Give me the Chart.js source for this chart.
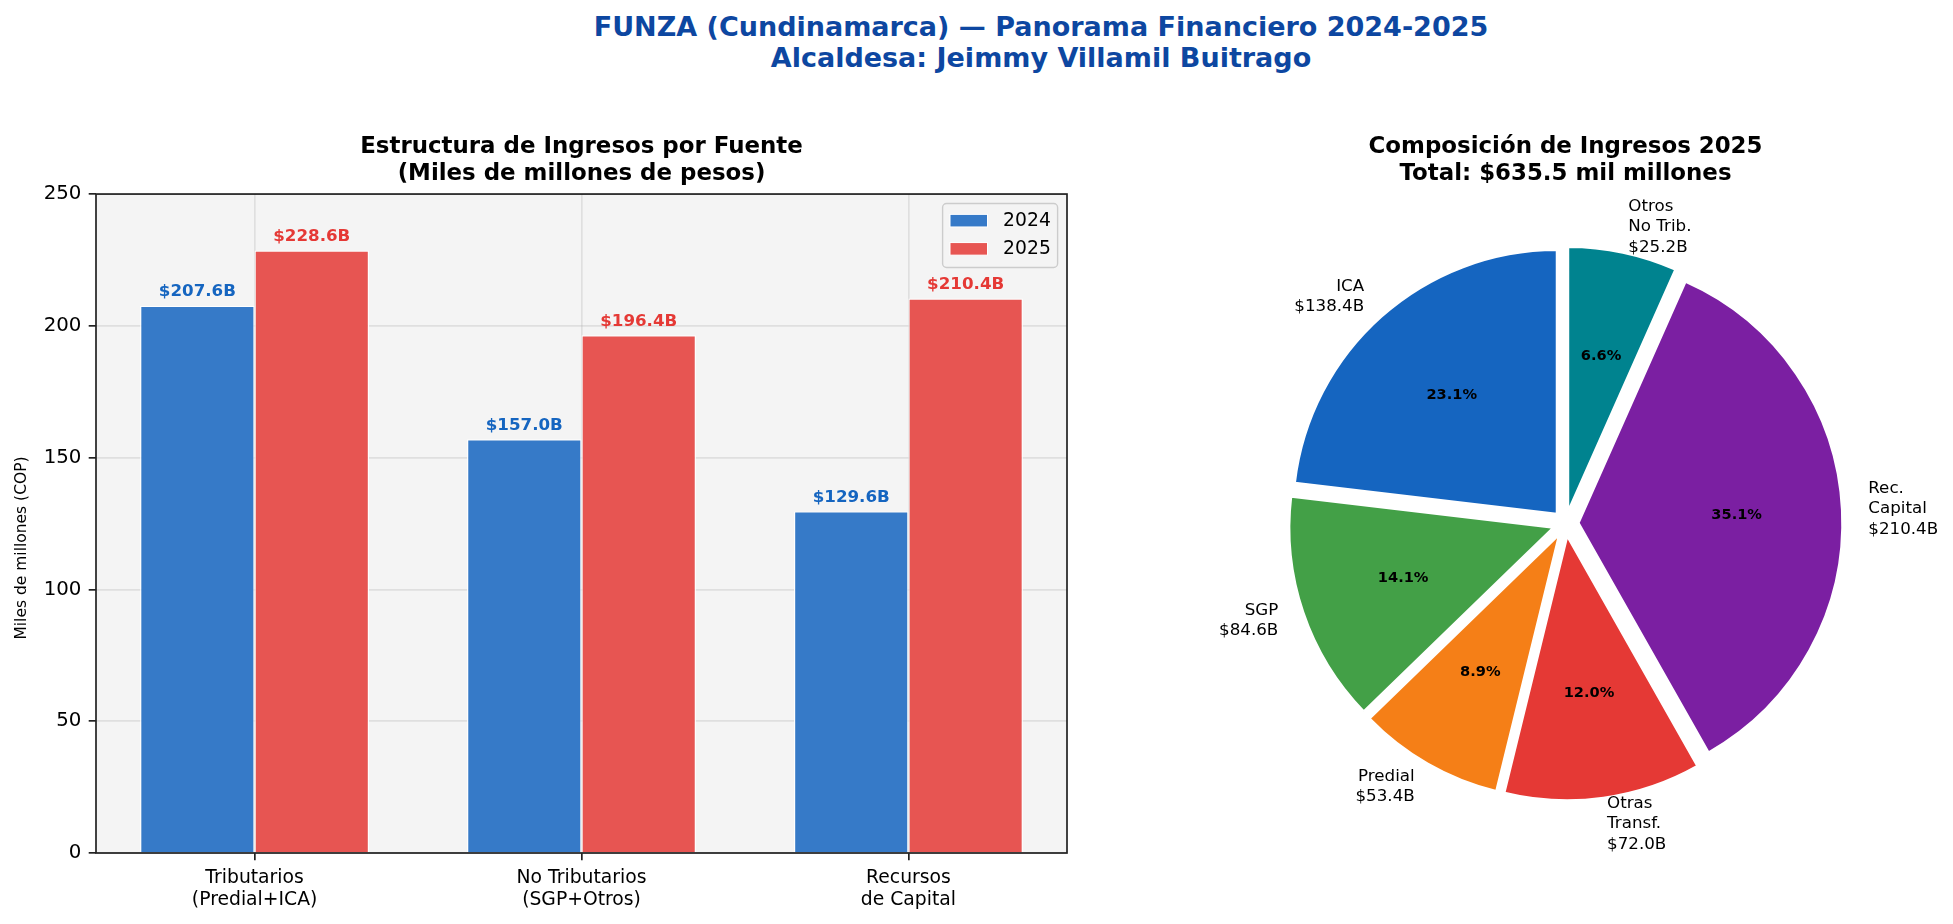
<!DOCTYPE html>
<html lang="es">

<head>
  <meta charset="UTF-8">
  <title>FUNZA - Panorama Financiero</title>
  <script src="https://cdn.jsdelivr.net/npm/chart.js"></script>
  <style>
    html, body { margin: 0; padding: 0; background: #fff; overflow: hidden; }
    body { width: 1953px; height: 924px; position: relative; font-family: 'DejaVu Sans', sans-serif; }
    .suptitle {
      position: absolute; left: 1041px; top: 10.6px; transform: translateX(-50%);
      white-space: nowrap; text-align: center; color: #0d47a1;
      font-weight: bold; font-size: 27px; line-height: 31.3px;
    }
    .box { position: absolute; top: 0; height: 924px; }
    #barBox { left: 0; width: 1163px; }
    #pieBox { left: 1185px; width: 761px; }
  </style>
</head>

<body>
  <div class="suptitle">FUNZA (Cundinamarca) — Panorama Financiero 2024-2025<br>Alcaldesa: Jeimmy Villamil Buitrago</div>
  <div class="box" id="barBox"><canvas id="barChart"></canvas></div>
  <div class="box" id="pieBox"><canvas id="pieChart"></canvas></div>

  <script>
    // bar chart data
    const categories = [['Tributarios', '(Predial+ICA)'], ['No Tributarios', '(SGP+Otros)'], ['Recursos', 'de Capital']];
    const years = ['2024', '2025'];
    const values2024 = [207.6, 157.0, 129.6];
    const values2025 = [228.6, 196.4, 210.4];
    const yTicks = [0, 50, 100, 150, 200, 250];

    // pie data (matplotlib order, counterclockwise from the top)
    const pieNames = [['ICA'], ['SGP'], ['Predial'], ['Otras', 'Transf.'], ['Rec.', 'Capital'], ['Otros', 'No Trib.']];
    const pieAmounts = ['$138.4B', '$84.6B', '$53.4B', '$72.0B', '$210.4B', '$25.2B'];
    const pieValues = [138.4, 84.6, 53.4, 72.0, 210.4, 39.8];
    const pieColors = ['#1565C0', '#43A047', '#F57F17', '#E53935', '#7B1FA2', '#00838F'];

    const FONT = "'DejaVu Sans'";
    Chart.defaults.font.family = FONT;
    Chart.defaults.color = '#000';

    const gridStyle = {
      color: 'rgba(176,176,176,0.3)',
      lineWidth: 1.7,
      tickColor: '#222',
      tickWidth: 1.7,
      tickLength: 7.3,
      offset: false,
    };

    const barDecor = {
      id: 'barDecor',
      beforeDraw(chart) {
        const { ctx, chartArea: a } = chart;
        ctx.save();
        ctx.fillStyle = '#f4f4f4';
        ctx.fillRect(a.left, a.top, a.right - a.left, a.bottom - a.top);
        ctx.restore();
      },
      afterDraw(chart) {
        const { ctx, chartArea: a } = chart;
        ctx.save();

        // y axis label (sits a little below the axis middle in the original)
        ctx.save();
        ctx.translate(22.4, 548);
        ctx.rotate(-Math.PI / 2);
        ctx.font = `15.5px ${FONT}`;
        ctx.fillStyle = '#000';
        ctx.textAlign = 'center';
        ctx.textBaseline = 'middle';
        ctx.fillText('Miles de millones (COP)', 0, 0);
        ctx.restore();

        // value labels over the bars
        ctx.font = `bold 16.7px ${FONT}`;
        ctx.textAlign = 'center';
        ctx.textBaseline = 'alphabetic';
        chart.data.datasets.forEach((ds, di) => {
          ctx.fillStyle = ds.labelColor;
          chart.getDatasetMeta(di).data.forEach((bar, i) => {
            ctx.fillText('$' + ds.data[i].y.toFixed(1) + 'B', bar.x, bar.y - 9.5);
          });
        });

        // axes frame
        ctx.strokeStyle = '#222';
        ctx.lineWidth = 1.7;
        ctx.strokeRect(a.left, a.top, a.right - a.left, a.bottom - a.top);

        // legend, upper right
        const w = 115, h = 64;
        const left = a.right - 9.4 - w, top = a.top + 9.4;
        ctx.beginPath();
        if (ctx.roundRect) ctx.roundRect(left, top, w, h, 4); else ctx.rect(left, top, w, h);
        ctx.fillStyle = 'rgba(244,244,244,0.8)';
        ctx.fill();
        ctx.strokeStyle = '#cccccc';
        ctx.lineWidth = 1.4;
        ctx.stroke();
        ctx.font = `18.75px ${FONT}`;
        ctx.textAlign = 'left';
        ctx.textBaseline = 'middle';
        chart.data.datasets.forEach((ds, di) => {
          const cy = top + 17.2 + di * 28.2;
          ctx.fillStyle = ds.backgroundColor;
          ctx.fillRect(left + 7.4, cy - 6.3, 37.5, 12.6);
          ctx.strokeStyle = '#fff';
          ctx.lineWidth = 1;
          ctx.strokeRect(left + 7.4, cy - 6.3, 37.5, 12.6);
          ctx.fillStyle = '#000';
          ctx.fillText(ds.label, left + 60.5, cy);
        });
        ctx.restore();
      }
    };

    new Chart(document.getElementById('barChart'), {
      type: 'bar',
      data: {
        datasets: [{
          label: years[0],
          data: values2024.map((v, i) => ({ x: i, y: v })),
          backgroundColor: '#367ac8',
          labelColor: '#1565C0',
        }, {
          label: years[1],
          data: values2025.map((v, i) => ({ x: i, y: v })),
          backgroundColor: '#e75552',
          labelColor: '#E53935',
        }]
      },
      options: {
        responsive: true,
        maintainAspectRatio: false,
        animation: false,
        layout: { padding: { left: 0, right: 96, top: 0, bottom: 0 } },
        datasets: {
          bar: { categoryPercentage: 0.7, barPercentage: 1.0, borderColor: '#fff', borderWidth: 1.2 }
        },
        plugins: {
          legend: { display: false },
          tooltip: { enabled: false },
          title: {
            display: true,
            fullSize: false,
            text: ['Estructura de Ingresos por Fuente', '(Miles de millones de pesos)'],
            color: '#000',
            font: { size: 22.9, weight: 'bold', lineHeight: 1.2 },
            padding: { top: 133.3, bottom: 5.8 },
          },
        },
        scales: {
          x: {
            type: 'linear',
            min: -0.485,
            max: 2.485,
            offset: false,
            z: 1,
            grid: gridStyle,
            border: { display: false },
            ticks: {
              stepSize: 1,
              includeBounds: false,
              autoSkip: false,
              maxRotation: 0,
              padding: 7,
              color: '#000',
              font: { size: 18.75, lineHeight: 1.15 },
              callback: (v) => categories[v] || '',
            },
            afterFit: (s) => { s.height = 71; },
          },
          y: {
            min: yTicks[0],
            max: yTicks[yTicks.length - 1],
            z: 1,
            grid: gridStyle,
            border: { display: false },
            ticks: { stepSize: yTicks[1] - yTicks[0], padding: 7.3, color: '#000', font: { size: 19.8 } },
            afterFit: (s) => { s.width = 96; },
          }
        }
      },
      plugins: [barDecor]
    });

    // pie: explode every wedge outward, then label it like matplotlib does
    const EXPLODE = 0.05;
    const pieDecor = {
      id: 'pieDecor',
      beforeDatasetDraw(chart, args) {
        const ctx = chart.ctx;
        args.meta.data.forEach((arc) => {
          const mid = (arc.startAngle + arc.endAngle) / 2;
          const d = EXPLODE * arc.outerRadius;
          ctx.save();
          ctx.translate(Math.cos(mid) * d, Math.sin(mid) * d);
          arc.draw(ctx, chart.chartArea);
          ctx.restore();
        });
        return false;
      },
      afterDatasetsDraw(chart) {
        const ctx = chart.ctx;
        const ds = chart.data.datasets[0];
        const total = ds.data.reduce((s, v) => s + v, 0);
        ctx.save();
        ctx.fillStyle = '#000';
        ctx.textBaseline = 'middle';
        chart.getDatasetMeta(0).data.forEach((arc, i) => {
          const mid = (arc.startAngle + arc.endAngle) / 2;
          const r = arc.outerRadius;
          const ux = Math.cos(mid), uy = Math.sin(mid);
          const cx = arc.x + ux * EXPLODE * r, cy = arc.y + uy * EXPLODE * r;

          const lines = [].concat(chart.data.labels[i], ds.amounts[i]);
          const lx = cx + ux * r * 1.1, ly = cy + uy * r * 1.1;
          ctx.font = `16.7px ${FONT}`;
          ctx.textAlign = lx > arc.x ? 'left' : 'right';
          lines.forEach((t, k) => ctx.fillText(t, lx, ly + (k - (lines.length - 1) / 2) * 20.5));

          ctx.font = `bold 14.6px ${FONT}`;
          ctx.textAlign = 'center';
          ctx.fillText((ds.data[i] / total * 100).toFixed(1) + '%', cx + ux * r * 0.6, cy + uy * r * 0.6);
        });
        ctx.restore();
      }
    };

    // Chart.js runs clockwise, matplotlib counterclockwise: reverse the order
    const rev = (arr) => arr.slice().reverse();

    new Chart(document.getElementById('pieChart'), {
      type: 'pie',
      data: {
        labels: rev(pieNames),
        datasets: [{
          data: rev(pieValues),
          amounts: rev(pieAmounts),
          backgroundColor: rev(pieColors),
          borderColor: '#fff',
          borderWidth: 2,
          radius: 263.6,
        }]
      },
      options: {
        responsive: true,
        maintainAspectRatio: false,
        animation: false,
        layout: { padding: { left: 0, right: 0, top: 0, bottom: 71 } },
        plugins: {
          legend: { display: false },
          tooltip: { enabled: false },
          title: {
            display: true,
            text: ['Composición de Ingresos 2025', 'Total: $635.5 mil millones'],
            color: '#000',
            font: { size: 22.9, weight: 'bold', lineHeight: 1.2 },
            padding: { top: 133.3, bottom: 5.8 },
          },
        },
      },
      plugins: [pieDecor]
    });
  </script>
</body>

</html>
